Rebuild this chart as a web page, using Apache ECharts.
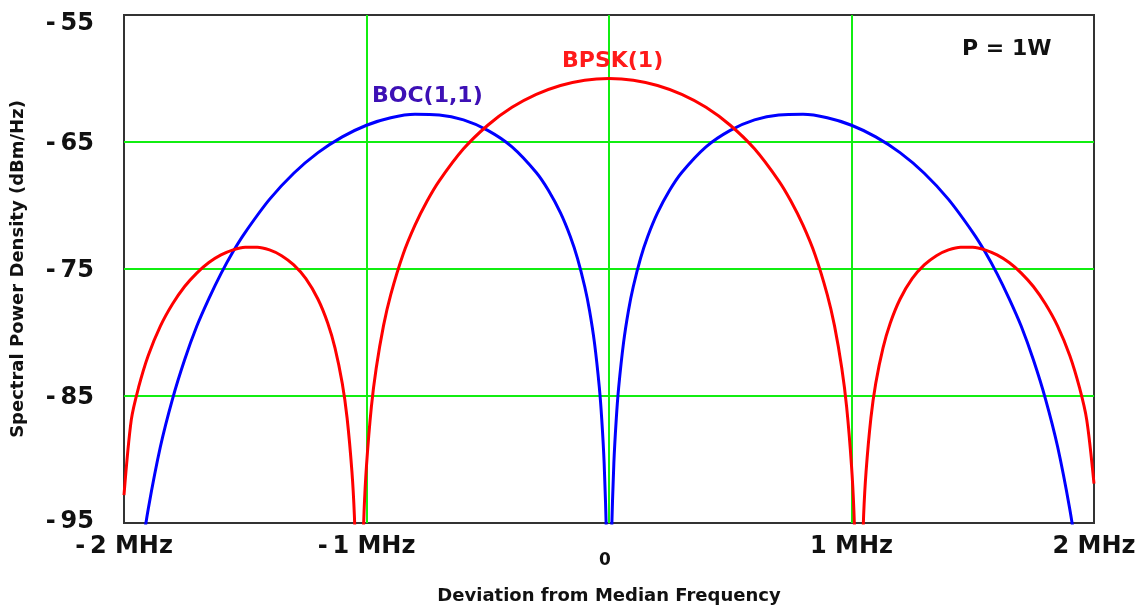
<!DOCTYPE html>
<html>
<head>
<meta charset="utf-8">
<title>BPSK(1) / BOC(1,1)</title>
<script src="https://cdn.jsdelivr.net/npm/echarts@6/dist/echarts.min.js"></script>
<style>
    html, body { margin: 0; padding: 0; background: #fff; }
    #divChart { width: 1138px; height: 607px; }
</style>
</head>
<body>
<div id="divChart"></div>
<script>
// 数据
var xTicks = [-2, -1, 0, 1, 2];
var yTicks = [-95, -85, -75, -65, -55];

// BPSK(1) 曲线：频偏 MHz / dBm/Hz（低于 -95 的部分被图框裁掉）
var bpskFreq = [-2.0, -1.97, -1.94, -1.9, -1.85, -1.8, -1.75, -1.7, -1.65, -1.6,
    -1.55, -1.5, -1.45, -1.4, -1.35, -1.3, -1.25, -1.2, -1.16, -1.13,
    -1.1, -1.08, -1.06, -1.05, -1.04, -1.03, -1.02, -1.01, -1.0, -0.98,
    -0.96, -0.93, -0.9, -0.85, -0.8, -0.75, -0.7, -0.6, -0.5, -0.4,
    -0.3, -0.2, -0.1, 0, 0.1, 0.2, 0.3, 0.4, 0.5, 0.6,
    0.7, 0.75, 0.8, 0.85, 0.9, 0.93, 0.96, 0.98, 1.0, 1.01,
    1.02, 1.03, 1.04, 1.05, 1.06, 1.08, 1.1, 1.13, 1.16, 1.2,
    1.25, 1.3, 1.35, 1.4, 1.45, 1.5, 1.55, 1.6, 1.65, 1.7,
    1.75, 1.8, 1.85, 1.9, 1.94, 1.97, 2.0];
var bpskDb = [-92.8, -86.88, -84.33, -81.81, -79.5, -77.76, -76.38, -75.32, -74.49, -73.89,
    -73.49, -73.29, -73.28, -73.5, -73.95, -74.68, -75.76, -77.38, -79.25, -81.21,
    -84.0, -86.73, -90.97, -94.4, -100.3, -110, -100.2, -94.09, -90.48, -85.88,
    -82.82, -79.48, -77.01, -73.89, -71.55, -69.65, -68.06, -65.54, -63.68, -62.27,
    -61.25, -60.55, -60.13, -60.0, -60.13, -60.55, -61.25, -62.27, -63.68, -65.54,
    -68.06, -69.65, -71.55, -73.89, -77.01, -79.48, -82.82, -85.88, -90.48, -94.09,
    -100.2, -110, -100.3, -94.4, -90.97, -86.73, -84.0, -81.21, -79.25, -77.38,
    -75.76, -74.68, -73.95, -73.5, -73.28, -73.29, -73.49, -73.89, -74.49, -75.32,
    -76.38, -77.76, -79.5, -81.81, -84.33, -86.88, -91.9];

// BOC(1,1) 曲线
var bocFreq = [-1.93, -1.9, -1.85, -1.8, -1.75, -1.7, -1.65, -1.6, -1.55, -1.5,
    -1.4, -1.3, -1.2, -1.1, -1.0, -0.9, -0.8, -0.7, -0.6, -0.5,
    -0.4, -0.3, -0.25, -0.2, -0.16, -0.13, -0.1, -0.08, -0.06, -0.04,
    -0.03, -0.02, -0.01, -0.005, 0, 0.005, 0.01, 0.02, 0.03, 0.04,
    0.06, 0.08, 0.1, 0.13, 0.16, 0.2, 0.25, 0.3, 0.4, 0.5,
    0.6, 0.7, 0.8, 0.9, 1.0, 1.1, 1.2, 1.3, 1.4, 1.5,
    1.55, 1.6, 1.65, 1.7, 1.75, 1.8, 1.85, 1.9, 1.93];
var bocDb = [-97.6, -93.89, -89.0, -85.24, -82.15, -79.51, -77.33, -75.36, -73.62, -72.11,
    -69.52, -67.46, -65.84, -64.6, -63.68, -63.09, -62.82, -62.87, -63.26, -64.08,
    -65.38, -67.4, -68.8, -70.58, -72.42, -74.16, -76.4, -78.3, -80.8, -84.3,
    -86.8, -90.3, -96.3, -102.4, -110, -102.4, -96.3, -90.3, -86.8, -84.3,
    -80.8, -78.3, -76.4, -74.16, -72.42, -70.58, -68.8, -67.4, -65.38, -64.08,
    -63.26, -62.87, -62.82, -63.09, -63.68, -64.6, -65.84, -67.46, -69.52, -72.11,
    -73.62, -75.36, -77.33, -79.51, -82.15, -85.24, -89.0, -93.89, -97.6];

function toPairs(xs, ys) {
    return xs.map(function (x, i) {
        return [x, ys[i]];
    });
}

var FONT = 'DejaVu Sans';
var tickFont = { fontFamily: FONT, fontWeight: 'bold', fontSize: 24, color: '#111' };
var myChart = echarts.init(document.getElementById('divChart'));

var option = {
    animation: false,
    backgroundColor: '#fff',
    grid: {
        left: 124, right: 44, top: 15, bottom: 84,
        outerBoundsMode: 'none',
        containLabel: false,
        show: true,
        borderColor: '#333',
        borderWidth: 2
    },
    xAxis: {
        type: 'value',
        min: xTicks[0],
        max: xTicks[xTicks.length - 1],
        interval: 1,
        name: 'Deviation from Median Frequency',
        nameLocation: 'middle',
        nameGap: 64,
        nameTextStyle: { fontFamily: FONT, fontWeight: 'bold', fontSize: 18, color: '#111' },
        axisLine: { show: false },
        axisTick: { show: false },
        splitLine: {
            show: true,
            showMinLine: false,
            showMaxLine: false,
            lineStyle: { color: '#11ee11', width: 2 }
        },
        axisLabel: {
            margin: 12,
            fontFamily: FONT,
            fontWeight: 'bold',
            fontSize: 24,
            color: '#111',
            formatter: function (v) {
                if (v === 0) return '{z|0}';
                return (v < 0 ? '-\u2009' + (-v) : '' + v) + ' MHz';
            },
            rich: {
                z: { fontFamily: FONT, fontWeight: 'bold', fontSize: 17, color: '#111', padding: [17, 8, 0, 0] }
            }
        }
    },
    yAxis: {
        type: 'value',
        min: yTicks[0],
        max: yTicks[yTicks.length - 1],
        interval: 10,
        name: 'Spectral Power Density (dBm/Hz)',
        nameLocation: 'middle',
        nameGap: 97,
        nameTextStyle: { fontFamily: FONT, fontWeight: 'bold', fontSize: 18, color: '#111' },
        axisLine: { show: false },
        axisTick: { show: false },
        splitLine: {
            show: true,
            showMinLine: false,
            showMaxLine: false,
            lineStyle: { color: '#11ee11', width: 2 }
        },
        axisLabel: {
            margin: 30,
            fontFamily: FONT,
            fontWeight: 'bold',
            fontSize: 24,
            color: '#111',
            formatter: function (v) {
                var s = '-\u2009' + Math.abs(v);
                if (v === yTicks[yTicks.length - 1]) return '{top|' + s + '}';
                if (v === yTicks[0]) return '{bot|' + s + '}';
                return '{mid|' + s + '}';
            },
            rich: {
                top: Object.assign({ padding: [17, 0, 0, 0] }, tickFont),
                mid: Object.assign({ padding: [4, 0, 0, 0] }, tickFont),
                bot: Object.assign({ padding: [0, 0, 3, 0] }, tickFont)
            }
        }
    },
    series: [{
        name: 'BOC(1,1)',
        type: 'line',
        data: toPairs(bocFreq, bocDb),
        showSymbol: false,
        smooth: 0.3,
        clip: true,
        lineStyle: { color: '#0000ff', width: 3 },
        z: 3
    }, {
        name: 'BPSK(1)',
        type: 'line',
        data: toPairs(bpskFreq, bpskDb),
        showSymbol: false,
        smooth: 0.3,
        clip: true,
        lineStyle: { color: '#ff0000', width: 3 },
        z: 4
    }],
    graphic: [{
        type: 'text', left: 962, top: 38, z: 10,
        style: { text: 'P = 1W', fontFamily: FONT, fontWeight: 'bold', fontSize: 22, fill: '#111' }
    }, {
        type: 'text', left: 372, top: 85, z: 10,
        style: { text: 'BOC(1,1)', fontFamily: FONT, fontWeight: 'bold', fontSize: 22, fill: '#3d10b5' }
    }, {
        type: 'text', left: 562, top: 50, z: 10,
        style: { text: 'BPSK(1)', fontFamily: FONT, fontWeight: 'bold', fontSize: 22, fill: '#ff1a1a' }
    }]
};
myChart.setOption(option);
</script>
</body>
</html>
